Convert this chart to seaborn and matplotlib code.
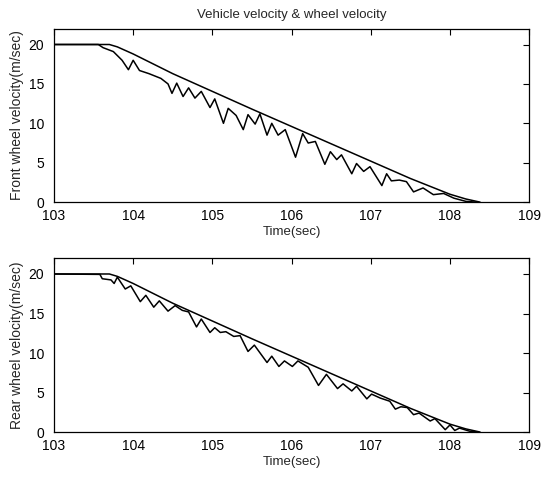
import matplotlib
matplotlib.use("Agg")
import matplotlib.pyplot as plt
import seaborn as sns

# vehicle velocity (same reference curve in both panels)
vehicle_time = [103.0, 103.7, 103.8, 103.9, 104.0, 104.5, 105.0, 105.5, 106.0,
                106.5, 107.0, 107.5, 108.0, 108.2, 108.38]
vehicle_vel = [20.0, 20.0, 19.7, 19.25, 18.8, 16.3, 14.05, 11.8, 9.6,
               7.4, 5.2, 3.0, 1.0, 0.4, 0.0]

# front wheel velocity
front_time = [103.0, 103.56, 103.62, 103.75, 103.86, 103.94, 104.0, 104.08, 104.2,
              104.35, 104.44, 104.49, 104.55, 104.63, 104.70, 104.78, 104.86, 104.97,
              105.03, 105.14, 105.20, 105.30, 105.39, 105.45, 105.54, 105.60, 105.69,
              105.75, 105.83, 105.92, 106.05, 106.14, 106.21, 106.30, 106.42, 106.49,
              106.57, 106.63, 106.76, 106.82, 106.91, 106.99, 107.14, 107.20, 107.26,
              107.36, 107.45, 107.54, 107.66, 107.79, 107.92, 108.05, 108.2, 108.33]
front_vel = [20.0, 20.0, 19.6, 19.1, 18.0, 16.8, 18.0, 16.7, 16.3,
             15.7, 15.0, 13.8, 15.1, 13.4, 14.5, 13.2, 14.05, 12.0,
             13.1, 10.0, 11.9, 11.0, 9.2, 11.1, 9.9, 11.2, 8.5,
             10.0, 8.5, 9.2, 5.7, 8.7, 7.5, 7.7, 4.8, 6.4,
             5.4, 6.0, 3.6, 4.9, 3.9, 4.5, 2.1, 3.6, 2.7,
             2.8, 2.6, 1.3, 1.8, 0.95, 1.1, 0.5, 0.1, 0.0]

# rear wheel velocity
rear_time = [103.0, 103.58, 103.61, 103.72, 103.76, 103.80, 103.90, 103.97, 104.09,
             104.16, 104.26, 104.33, 104.44, 104.53, 104.62, 104.70, 104.80, 104.86,
             104.97, 105.03, 105.10, 105.17, 105.27, 105.35, 105.45, 105.53, 105.69,
             105.75, 105.84, 105.91, 106.01, 106.08, 106.21, 106.34, 106.44, 106.58,
             106.65, 106.76, 106.82, 106.95, 107.01, 107.12, 107.24, 107.31, 107.38,
             107.46, 107.54, 107.61, 107.75, 107.81, 107.94, 108.0, 108.06, 108.12,
             108.25, 108.36]
rear_vel = [20.0, 19.95, 19.4, 19.25, 18.8, 19.6, 18.1, 18.5, 16.5,
            17.3, 15.8, 16.6, 15.3, 16.0, 15.4, 15.2, 13.3, 14.3,
            12.6, 13.2, 12.6, 12.7, 12.1, 12.2, 10.2, 11.0, 8.8,
            9.6, 8.3, 9.0, 8.3, 9.0, 8.2, 5.9, 7.3, 5.5,
            6.1, 5.2, 5.8, 4.2, 4.8, 4.3, 3.9, 2.9, 3.2,
            3.1, 2.2, 2.4, 1.4, 1.7, 0.3, 0.9, 0.2, 0.5,
            0.1, 0.0]

sns.set_style('white')
plt.rcParams['font.family'] = ['Liberation Sans', 'DejaVu Sans']

fig = plt.figure(figsize=(5.45, 4.79), dpi=100)
ax1 = fig.add_axes([0.099, 0.578, 0.872, 0.362])
ax2 = fig.add_axes([0.099, 0.098, 0.872, 0.363])

panels = [(ax1, front_time, front_vel, 'Front wheel velocity(m/sec)'),
          (ax2, rear_time, rear_vel, 'Rear wheel velocity(m/sec)')]

for ax, t, v, label in panels:
    sns.lineplot(x=vehicle_time, y=vehicle_vel, color='black', linewidth=1.1, ax=ax)
    sns.lineplot(x=t, y=v, color='black', linewidth=1.1, ax=ax)
    ax.set_xlim(103, 109)
    ax.set_ylim(0, 22)
    ax.set_xticks([103, 104, 105, 106, 107, 108, 109])
    ax.set_yticks([0, 5, 10, 15, 20])
    ax.tick_params(direction='in', length=4, width=0.8, top=True, right=True,
                   labelsize=10, colors='black')
    ax.tick_params(axis='x', pad=5)
    ax.tick_params(axis='y', pad=7)
    ax.set_xlabel('Time(sec)', fontsize=9.5, labelpad=2)
    ax.set_ylabel(label, fontsize=10, labelpad=3)
    for s in ax.spines.values():
        s.set_color('black')
        s.set_linewidth(0.9)

ax1.set_title('Vehicle velocity & wheel velocity', fontsize=9.5, pad=8)

fig.savefig('out.png', dpi=100)
